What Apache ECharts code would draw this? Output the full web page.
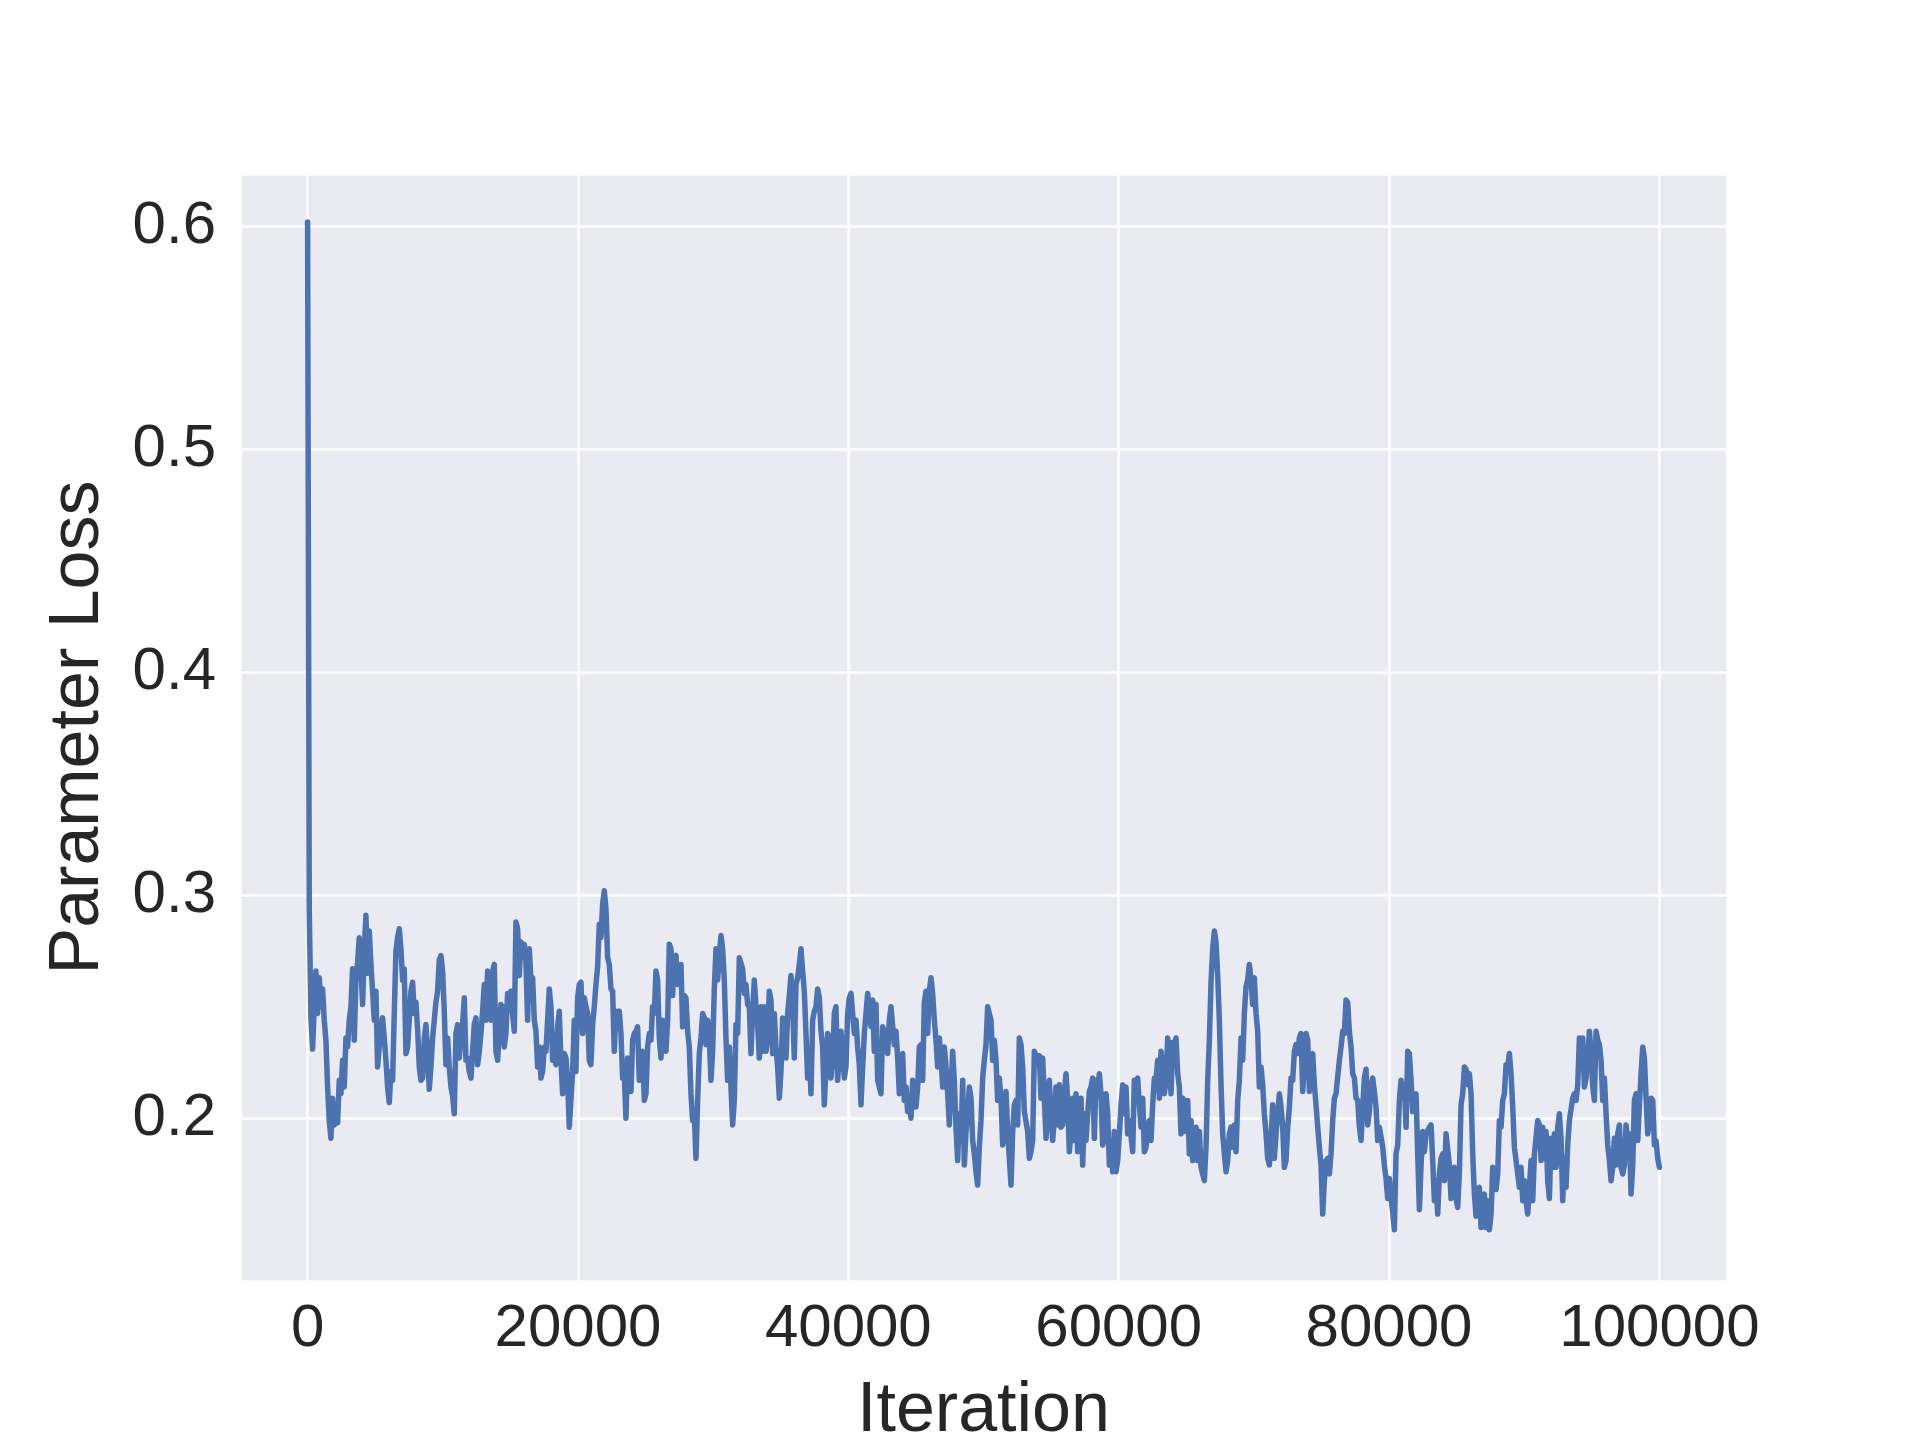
<!DOCTYPE html>
<html>
<head>
<meta charset="utf-8">
<title>Parameter Loss</title>
<script src="https://cdn.jsdelivr.net/npm/echarts@6/dist/echarts.min.js"></script>
<style>
  html, body { margin: 0; padding: 0; background: #ffffff; }
  #chart { width: 1920px; height: 1440px; }
</style>
</head>
<body>
<div id="chart"></div>
<script>
const lossPart1 = [
  0.602, 0.294, 0.245, 0.231, 0.250, 0.266, 0.247, 0.263, 0.250, 0.258, 0.244, 0.235, 0.214, 0.199, 0.191, 0.209,
  0.197, 0.199, 0.198, 0.217, 0.211, 0.226, 0.214, 0.236, 0.232, 0.244, 0.250, 0.267, 0.235, 0.262, 0.270, 0.281,
  0.268, 0.251, 0.276, 0.291, 0.265, 0.284, 0.269, 0.257, 0.244, 0.257, 0.223, 0.223, 0.242, 0.245, 0.236, 0.226,
  0.214, 0.207, 0.221, 0.217, 0.247, 0.275, 0.281, 0.285, 0.276, 0.262, 0.267, 0.229, 0.232, 0.244, 0.257, 0.261,
  0.247, 0.252, 0.240, 0.223, 0.217, 0.218, 0.236, 0.242, 0.229, 0.213, 0.223, 0.236, 0.244, 0.252, 0.257, 0.271,
  0.273, 0.266, 0.248, 0.224, 0.236, 0.223, 0.214, 0.210, 0.202, 0.238, 0.242, 0.227, 0.236, 0.242, 0.254, 0.226,
  0.227, 0.221, 0.218, 0.218, 0.242, 0.245, 0.224, 0.230, 0.238, 0.248, 0.260, 0.244, 0.266, 0.264, 0.244, 0.266,
  0.269, 0.230, 0.226, 0.238, 0.251, 0.250, 0.232, 0.238, 0.256, 0.251, 0.257, 0.247, 0.239, 0.288, 0.285, 0.264,
  0.279, 0.276, 0.278, 0.270, 0.244
];
const lossPart2 = [
  0.276, 0.262, 0.263, 0.244, 0.239, 0.223, 0.232, 0.218, 0.221, 0.232, 0.230, 0.244, 0.258, 0.250, 0.226, 0.229,
  0.224, 0.241, 0.248, 0.226, 0.211, 0.229, 0.227, 0.217, 0.196, 0.196, 0.221, 0.244, 0.221, 0.254, 0.260, 0.261,
  0.238, 0.254, 0.250, 0.247, 0.226, 0.224, 0.242, 0.250, 0.260, 0.268, 0.287, 0.281, 0.296, 0.302, 0.294, 0.272,
  0.269, 0.258, 0.257, 0.230, 0.248, 0.247, 0.248, 0.238, 0.218, 0.220, 0.200, 0.227, 0.226, 0.212, 0.235, 0.238,
  0.239, 0.241, 0.217, 0.229, 0.230, 0.208, 0.211, 0.232, 0.238, 0.235, 0.250, 0.247, 0.266, 0.262, 0.236, 0.227,
  0.244, 0.242, 0.230, 0.244, 0.278, 0.276, 0.255, 0.272, 0.273, 0.260, 0.261, 0.269, 0.241, 0.255, 0.254, 0.239,
  0.232, 0.211, 0.199, 0.202, 0.182, 0.208, 0.229, 0.236, 0.247, 0.245, 0.233, 0.244, 0.236, 0.217, 0.230, 0.258,
  0.276, 0.262, 0.273, 0.282, 0.276, 0.262, 0.236, 0.217, 0.232, 0.214, 0.197, 0.208, 0.242, 0.238, 0.272, 0.272,
  0.267, 0.256, 0.260, 0.251, 0.250, 0.229, 0.248, 0.262, 0.250, 0.242, 0.227, 0.250, 0.230
];
const lossPart3 = [
  0.250, 0.230, 0.236, 0.257, 0.253, 0.229, 0.247, 0.232, 0.223, 0.209, 0.221, 0.245, 0.238, 0.227, 0.247, 0.255,
  0.264, 0.251, 0.227, 0.260, 0.263, 0.269, 0.276, 0.266, 0.257, 0.238, 0.218, 0.229, 0.211, 0.244, 0.248, 0.250,
  0.258, 0.254, 0.239, 0.232, 0.206, 0.223, 0.238, 0.236, 0.218, 0.227, 0.247, 0.250, 0.217, 0.229, 0.239, 0.229,
  0.218, 0.223, 0.247, 0.254, 0.256, 0.256, 0.238, 0.244, 0.232, 0.224, 0.206, 0.223, 0.238, 0.247, 0.256, 0.256,
  0.241, 0.253, 0.230, 0.251, 0.217, 0.214, 0.211, 0.241, 0.239, 0.233, 0.229, 0.244, 0.250, 0.250, 0.233, 0.239,
  0.227, 0.211, 0.218, 0.229, 0.208, 0.214, 0.203, 0.206, 0.200, 0.217, 0.209, 0.205, 0.214, 0.232, 0.233, 0.217,
  0.252, 0.257, 0.238, 0.257, 0.263, 0.256, 0.244, 0.235, 0.223, 0.236, 0.227, 0.214, 0.232, 0.223, 0.211, 0.197,
  0.214, 0.230, 0.217, 0.196, 0.181, 0.202, 0.190, 0.217, 0.179, 0.194, 0.202, 0.214, 0.209, 0.190, 0.184, 0.176,
  0.170, 0.187, 0.199, 0.218, 0.226, 0.233, 0.250, 0.250, 0.244, 0.226, 0.235, 0.226, 0.208
];
const lossPart4 = [
  0.218, 0.209, 0.188, 0.197, 0.212, 0.194, 0.182, 0.170, 0.194, 0.206, 0.208, 0.197, 0.236, 0.233, 0.223, 0.203,
  0.203, 0.194, 0.182, 0.185, 0.190, 0.230, 0.228, 0.224, 0.228, 0.209, 0.227, 0.209, 0.191, 0.209, 0.217, 0.200,
  0.190, 0.200, 0.214, 0.197, 0.215, 0.196, 0.197, 0.211, 0.220, 0.208, 0.185, 0.194, 0.209, 0.190, 0.211, 0.185,
  0.205, 0.209, 0.179, 0.202, 0.190, 0.202, 0.212, 0.214, 0.218, 0.191, 0.217, 0.212, 0.220, 0.211, 0.188, 0.191,
  0.211, 0.202, 0.179, 0.190, 0.176, 0.194, 0.176, 0.181, 0.193, 0.206, 0.215, 0.202, 0.214, 0.193, 0.199, 0.199,
  0.185, 0.217, 0.215, 0.218, 0.206, 0.196, 0.209, 0.185, 0.187, 0.197, 0.199, 0.190, 0.206, 0.218, 0.217, 0.226,
  0.209, 0.230, 0.223, 0.211, 0.217, 0.236, 0.229, 0.211, 0.234, 0.232, 0.236, 0.220, 0.214, 0.193, 0.209, 0.208,
  0.194, 0.208, 0.184, 0.199, 0.181, 0.187, 0.196, 0.181, 0.194, 0.178, 0.175, 0.172, 0.187, 0.217, 0.235, 0.261,
  0.276, 0.284, 0.279, 0.264, 0.244, 0.215, 0.193, 0.184, 0.176, 0.181, 0.193, 0.196, 0.187
];
const lossPart5 = [
  0.197, 0.185, 0.208, 0.217, 0.236, 0.226, 0.247, 0.259, 0.262, 0.269, 0.262, 0.251, 0.263, 0.247, 0.239, 0.214,
  0.223, 0.215, 0.202, 0.193, 0.182, 0.179, 0.191, 0.206, 0.182, 0.193, 0.193, 0.211, 0.205, 0.196, 0.178, 0.181,
  0.196, 0.205, 0.218, 0.217, 0.230, 0.233, 0.229, 0.236, 0.238, 0.212, 0.226, 0.238, 0.235, 0.212, 0.226, 0.229,
  0.215, 0.206, 0.196, 0.187, 0.179, 0.157, 0.172, 0.181, 0.182, 0.175, 0.184, 0.199, 0.209, 0.211, 0.211, 0.226,
  0.232, 0.239, 0.238, 0.253, 0.252, 0.239, 0.232, 0.220, 0.218, 0.209, 0.208, 0.196, 0.190, 0.205, 0.218, 0.222,
  0.197, 0.203, 0.215, 0.218, 0.212, 0.205, 0.190, 0.196, 0.196, 0.187, 0.179, 0.173, 0.164, 0.173, 0.164, 0.158,
  0.150, 0.184, 0.188, 0.208, 0.217, 0.211, 0.215, 0.196, 0.230, 0.229, 0.217, 0.203, 0.209, 0.211, 0.184, 0.159,
  0.179, 0.194, 0.185, 0.193, 0.193, 0.196, 0.197, 0.181, 0.163, 0.172, 0.157, 0.175, 0.182, 0.184, 0.172, 0.193,
  0.193, 0.179, 0.164, 0.176, 0.178, 0.164, 0.160, 0.176, 0.206, 0.211, 0.223, 0.222, 0.215
];
const lossPart6 = [
  0.220, 0.211, 0.184, 0.166, 0.156, 0.168, 0.169, 0.151, 0.163, 0.166, 0.151, 0.163, 0.150, 0.157, 0.178, 0.178,
  0.168, 0.175, 0.199, 0.196, 0.208, 0.211, 0.224, 0.223, 0.229, 0.220, 0.205, 0.187, 0.181, 0.175, 0.169, 0.178,
  0.163, 0.172, 0.163, 0.157, 0.169, 0.181, 0.163, 0.184, 0.184, 0.199, 0.197, 0.181, 0.196, 0.182, 0.194, 0.172,
  0.164, 0.191, 0.178, 0.193, 0.178, 0.196, 0.202, 0.191, 0.163, 0.182, 0.169, 0.188, 0.199, 0.199, 0.209, 0.211,
  0.208, 0.215, 0.236, 0.223, 0.236, 0.214, 0.218, 0.227, 0.239, 0.230, 0.214, 0.208, 0.239, 0.235, 0.233, 0.226,
  0.208, 0.218, 0.202, 0.188, 0.181, 0.172, 0.178, 0.191, 0.179, 0.193, 0.197, 0.178, 0.175, 0.179, 0.197, 0.190,
  0.193, 0.166, 0.179, 0.208, 0.211, 0.190, 0.206, 0.220, 0.232, 0.227, 0.209, 0.193, 0.199, 0.209, 0.208, 0.188,
  0.190, 0.182, 0.178
];

const loss = lossPart1.concat(lossPart2, lossPart3, lossPart4, lossPart5, lossPart6);
const lastIteration = 100000;
const stepIter = lastIteration / (loss.length - 1);
const lossData = loss.map((v, i) => [i * stepIter, v]);

const chart = echarts.init(document.getElementById("chart"));

const textColor = "#262626";
const fontFamily = "'Liberation Sans', Arial, sans-serif";

const option = {
  backgroundColor: "#ffffff",
  animation: false,
  grid: {
    left: 240,
    right: 193,
    top: 174,
    bottom: 159,
    show: true,
    backgroundColor: "#eaeaf2",
    borderWidth: 0,
    outerBoundsMode: "none",
  },
  xAxis: {
    type: "value",
    min: -5000,
    max: 105000,
    splitNumber: 5,
    name: "Iteration",
    nameLocation: "middle",
    nameGap: 96,
    nameTextStyle: { color: textColor, fontSize: 70, fontFamily: fontFamily },
    axisLine: { show: false },
    axisTick: { show: false },
    axisLabel: {
      color: textColor,
      fontSize: 60,
      fontFamily: fontFamily,
      margin: 18,
      showMinLabel: false,
      showMaxLabel: false,
      formatter: (v) => String(v),
    },
    splitLine: { show: true, lineStyle: { color: "#ffffff", width: 2.5 } },
  },
  yAxis: {
    type: "value",
    min: 0.127,
    max: 0.6235,
    splitNumber: 5,
    name: "Parameter Loss",
    nameLocation: "middle",
    nameGap: 126,
    nameTextStyle: { color: textColor, fontSize: 70, fontFamily: fontFamily },
    axisLine: { show: false },
    axisTick: { show: false },
    axisLabel: {
      color: textColor,
      fontSize: 60,
      fontFamily: fontFamily,
      margin: 24,
      showMinLabel: false,
      showMaxLabel: false,
      formatter: (v) => v.toFixed(1),
    },
    splitLine: { show: true, lineStyle: { color: "#ffffff", width: 2.5 } },
  },
  series: [
    {
      name: "Parameter Loss",
      type: "line",
      data: lossData,
      showSymbol: false,
      smooth: false,
      lineStyle: { color: "#4c72b0", width: 5.5, cap: "round", join: "round" },
    },
  ],
};

chart.setOption(option);
</script>
</body>
</html>
